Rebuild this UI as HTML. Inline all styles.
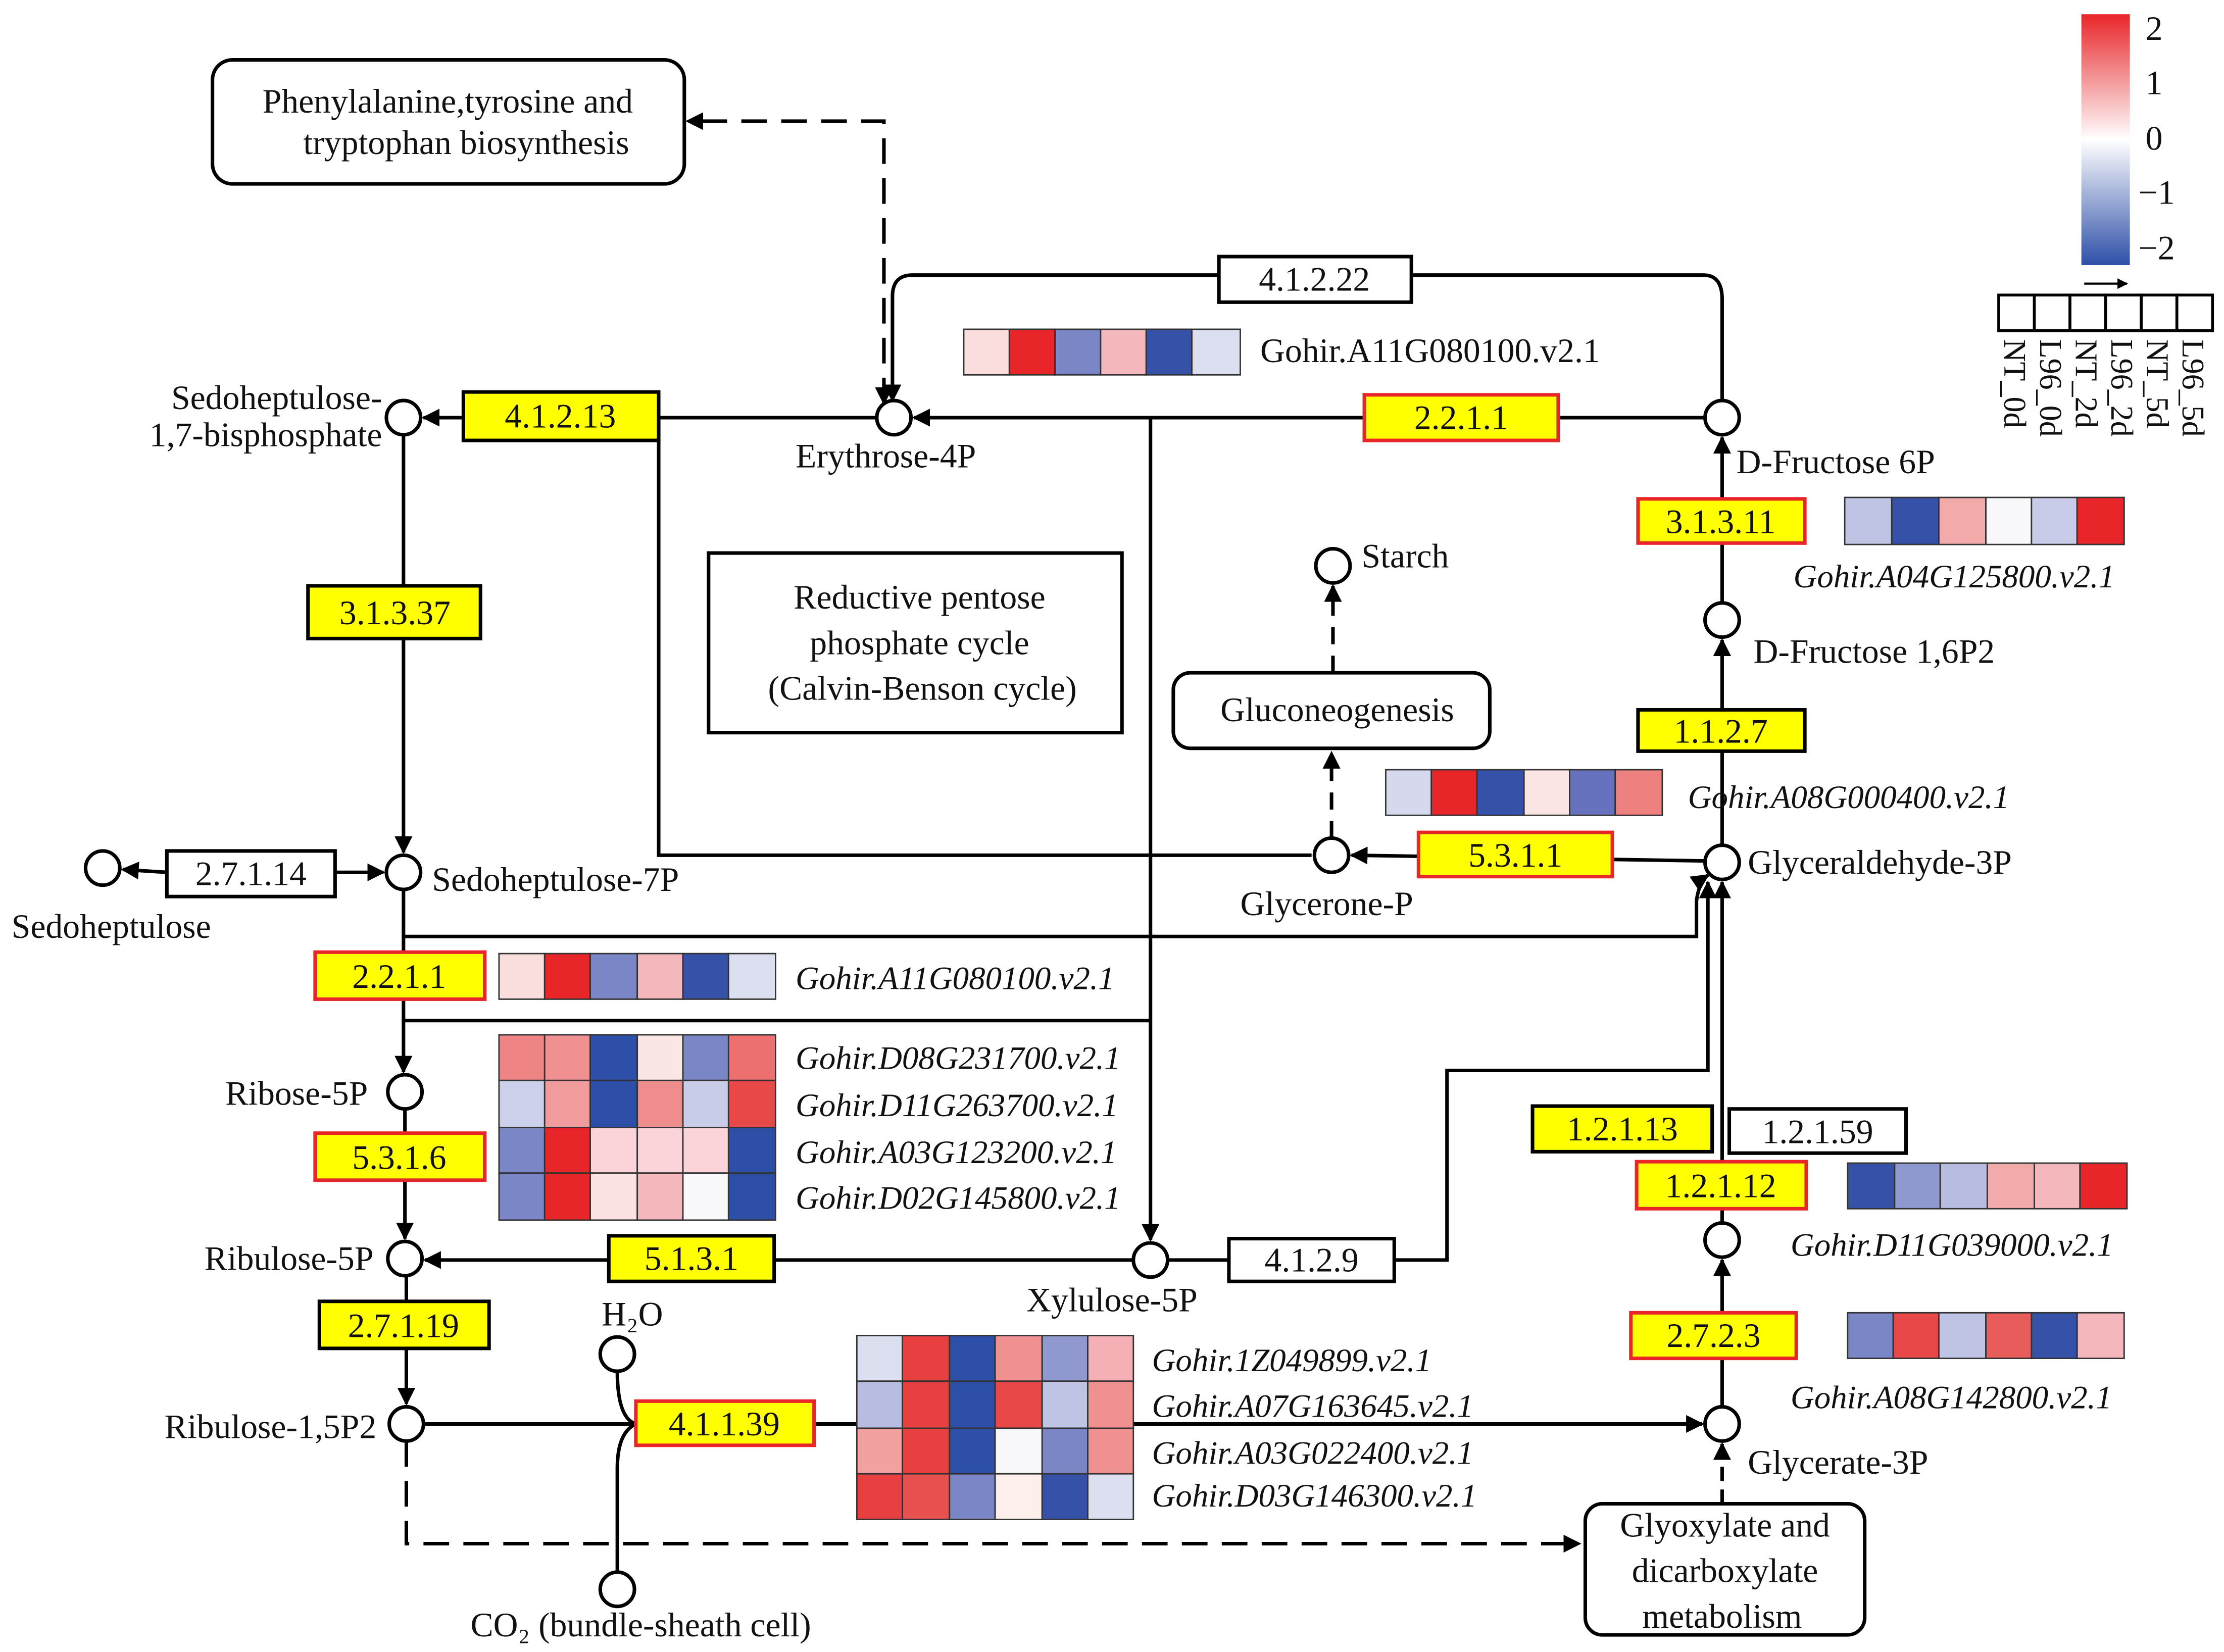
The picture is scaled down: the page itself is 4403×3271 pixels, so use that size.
<!DOCTYPE html>
<html><head><meta charset="utf-8"><style>
html,body{margin:0;padding:0;background:#fff;}
svg{display:block;}
text{font-family:"Liberation Serif",serif;fill:#111;}
</style></head><body>
<svg width="4403" height="3271" viewBox="0 0 1560 1159" xmlns="http://www.w3.org/2000/svg">
<defs>
<marker id="a" viewBox="0 0 10 10" refX="9" refY="5" markerWidth="5" markerHeight="5" orient="auto-start-reverse"><path d="M0,0 L10,5 L0,10 z" fill="#000"/></marker>
<linearGradient id="g" x1="0" y1="0" x2="0" y2="1"><stop offset="0" stop-color="#e8262a"/><stop offset="0.5" stop-color="#ffffff"/><stop offset="1" stop-color="#2e4fa8"/></linearGradient>
</defs>
<g fill="none" stroke="#000" stroke-width="2.5">
<!-- dashed phenyl -->
<path d="M620,283 L620,85 L482,85" stroke-dasharray="18,10" marker-end="url(#a)" marker-start="url(#a)"/>
<!-- 4.1.2.22 loop -->
<path d="M1208,281 L1208,210 Q1208,193 1195,193 L990,193"/>
<path d="M855,193 L640,193 Q626,193 626,208 L626,281" marker-end="url(#a)"/>
<path d="M1196,293 L641,293" marker-end="url(#a)"/>
<path d="M615,293 L297,293" marker-end="url(#a)"/>
<path d="M807,293 L807,870" marker-end="url(#a)"/>
<path d="M283,305 L283,598" marker-end="url(#a)"/>
<path d="M462,293 L462,600 L920,600"/>
<path d="M1196,604 L948,600" marker-end="url(#a)"/>
<path d="M934,588 L934,528" stroke-dasharray="12,8" marker-end="url(#a)"/>
<path d="M935,472 L935,411" stroke-dasharray="12,8" marker-end="url(#a)"/>
<path d="M117,612 L86,610" marker-end="url(#a)"/>
<path d="M235,612 L269,612" marker-end="url(#a)"/>
<path d="M283,657 L1190,657 L1190,632 Q1192,618 1198,614" marker-end="url(#a)"/>
<path d="M283,716 L807,716"/>
<path d="M283,624 L283,752" marker-end="url(#a)"/>
<path d="M284,778 L284,869" marker-end="url(#a)"/>
<path d="M795,884 L298,884" marker-end="url(#a)"/>
<path d="M819,884 L862,884"/>
<path d="M978,884 L1015,884 L1015,751 L1198,751 L1198,619" marker-end="url(#a)"/>
<path d="M285,895 L285,985" marker-end="url(#a)"/>
<path d="M297,999 L1194,999" marker-end="url(#a)"/>
<path d="M433,962 Q433,995 446,999"/>
<path d="M433,1103 L433,1030 Q433,1005 446,999"/>
<path d="M285,1011 L285,1083 L1108,1083" stroke-dasharray="18,10" marker-end="url(#a)"/>
<path d="M1208,1055 L1208,1013" stroke-dasharray="10,6" marker-end="url(#a)"/>
<path d="M1208,987 L1208,884" marker-end="url(#a)"/>
<path d="M1208,858 L1208,619" marker-end="url(#a)"/>
<path d="M1208,593 L1208,449" marker-end="url(#a)"/>
<path d="M1208,423 L1208,307" marker-end="url(#a)"/>
<path d="M1462,199 L1492,199" stroke-width="1.5" marker-end="url(#a)"/>
</g>
<!-- circles -->
<g fill="#fff" stroke="#000" stroke-width="2.5">
<circle cx="283" cy="293" r="12"/><circle cx="627" cy="293" r="12"/><circle cx="1208" cy="293" r="12"/>
<circle cx="935" cy="397" r="12"/><circle cx="1208" cy="435" r="12"/><circle cx="283" cy="612" r="12"/>
<circle cx="72" cy="609" r="12"/><circle cx="934" cy="600" r="12"/><circle cx="1208" cy="605" r="12"/>
<circle cx="284" cy="766" r="12"/><circle cx="284" cy="883" r="12"/><circle cx="807" cy="884" r="12"/>
<circle cx="433" cy="950" r="12"/><circle cx="285" cy="999" r="12"/><circle cx="1208" cy="999" r="12"/>
<circle cx="1208" cy="870" r="12"/><circle cx="433" cy="1115" r="12"/>
</g>
<!-- rounded boxes -->
<g fill="#fff" stroke="#000" stroke-width="2.5">
<rect x="149" y="42" width="331" height="87" rx="14"/>
<rect x="497" y="388" width="290" height="126"/>
<rect x="823" y="472" width="222" height="53" rx="12"/>
<rect x="1112" y="1055" width="196" height="92" rx="12"/>
</g>
<!-- EC boxes -->
<g stroke-width="2.5">
<rect x="855" y="180" width="135" height="32" fill="#fff" stroke="#000"/>
<rect x="325" y="275" width="137" height="34" fill="#ffff00" stroke="#000"/>
<rect x="957" y="277" width="136" height="32" fill="#ffff00" stroke="#e8262a"/>
<rect x="216" y="411" width="121" height="37" fill="#ffff00" stroke="#000"/>
<rect x="1149" y="350" width="117" height="31" fill="#ffff00" stroke="#e8262a"/>
<rect x="1149" y="498" width="117" height="29" fill="#ffff00" stroke="#000"/>
<rect x="995" y="584" width="136" height="31" fill="#ffff00" stroke="#e8262a"/>
<rect x="117" y="597" width="118" height="32" fill="#fff" stroke="#000"/>
<rect x="221" y="668" width="119" height="33" fill="#ffff00" stroke="#e8262a"/>
<rect x="221" y="795" width="119" height="33" fill="#ffff00" stroke="#e8262a"/>
<rect x="427" y="867" width="116" height="32" fill="#ffff00" stroke="#000"/>
<rect x="862" y="869" width="116" height="30" fill="#fff" stroke="#000"/>
<rect x="224" y="913" width="119" height="33" fill="#ffff00" stroke="#000"/>
<rect x="446" y="983" width="125" height="31" fill="#ffff00" stroke="#e8262a"/>
<rect x="1075" y="776" width="126" height="32" fill="#ffff00" stroke="#000"/>
<rect x="1213" y="778" width="124" height="31" fill="#fff" stroke="#000"/>
<rect x="1148" y="815" width="119" height="33" fill="#ffff00" stroke="#e8262a"/>
<rect x="1144" y="921" width="116" height="32" fill="#ffff00" stroke="#e8262a"/>
</g>
<g font-size="24" text-anchor="middle">
<text x="922" y="204">4.1.2.22</text><text x="393" y="300">4.1.2.13</text><text x="1025" y="301">2.2.1.1</text>
<text x="277" y="438">3.1.3.37</text><text x="1207" y="374">3.1.3.11</text><text x="1207" y="521">1.1.2.7</text>
<text x="1063" y="608">5.3.1.1</text><text x="176" y="621">2.7.1.14</text><text x="280" y="693">2.2.1.1</text>
<text x="280" y="820">5.3.1.6</text><text x="485" y="891">5.1.3.1</text><text x="920" y="892">4.1.2.9</text>
<text x="283" y="938">2.7.1.19</text><text x="508" y="1007">4.1.1.39</text><text x="1138" y="800">1.2.1.13</text>
<text x="1275" y="802">1.2.1.59</text><text x="1207" y="840">1.2.1.12</text><text x="1202" y="945">2.7.2.3</text>
<text x="314" y="79">Phenylalanine,tyrosine and</text><text x="327" y="108">tryptophan biosynthesis</text>
<text x="645" y="427">Reductive pentose</text><text x="645" y="459">phosphate cycle</text><text x="647" y="491">(Calvin-Benson cycle)</text>
<text x="938" y="506">Gluconeogenesis</text>
<text x="1210" y="1078">Glyoxylate and</text><text x="1210" y="1110">dicarboxylate</text><text x="1208" y="1142">metabolism</text>
</g>
<g font-size="24">
<text x="268" y="287" text-anchor="end">Sedoheptulose-</text><text x="268" y="313" text-anchor="end">1,7-bisphosphate</text>
<text x="558" y="328">Erythrose-4P</text><text x="1218" y="332">D-Fructose 6P</text>
<text x="955" y="398">Starch</text><text x="1230" y="465">D-Fructose 1,6P2</text>
<text x="303" y="625">Sedoheptulose-7P</text><text x="8" y="658">Sedoheptulose</text>
<text x="870" y="642">Glycerone-P</text><text x="1226" y="613">Glyceraldehyde-3P</text>
<text x="258" y="775" text-anchor="end">Ribose-5P</text><text x="262" y="891" text-anchor="end">Ribulose-5P</text>
<text x="720" y="920">Xylulose-5P</text><text x="422" y="930">H₂O</text>
<text x="264" y="1009" text-anchor="end">Ribulose-1,5P2</text><text x="1226" y="1034">Glycerate-3P</text>
<text x="330" y="1148">CO₂ (bundle-sheath cell)</text>
<text x="884" y="254">Gohir.A11G080100.v2.1</text>
</g>
<g font-size="23" font-style="italic">
<text x="1258" y="412">Gohir.A04G125800.v2.1</text>
<text x="1184" y="567">Gohir.A08G000400.v2.1</text>
<text x="558" y="694">Gohir.A11G080100.v2.1</text>
<text x="558" y="750">Gohir.D08G231700.v2.1</text>
<text x="558" y="783">Gohir.D11G263700.v2.1</text>
<text x="558" y="816">Gohir.A03G123200.v2.1</text>
<text x="558" y="848">Gohir.D02G145800.v2.1</text>
<text x="1256" y="881">Gohir.D11G039000.v2.1</text>
<text x="1256" y="988">Gohir.A08G142800.v2.1</text>
<text x="808" y="962">Gohir.1Z049899.v2.1</text>
<text x="808" y="994">Gohir.A07G163645.v2.1</text>
<text x="808" y="1027">Gohir.A03G022400.v2.1</text>
<text x="808" y="1057">Gohir.D03G146300.v2.1</text>
</g>
<!-- heatmaps -->
<g stroke="#333" stroke-width="1">
<!-- top A11 -->
<rect x="676" y="231" width="32" height="32" fill="#fadede"/><rect x="708" y="231" width="32" height="32" fill="#e8262a"/><rect x="740" y="231" width="32" height="32" fill="#7b86c6"/><rect x="772" y="231" width="32" height="32" fill="#f4b8bc"/><rect x="804" y="231" width="32" height="32" fill="#3552a8"/><rect x="836" y="231" width="34" height="32" fill="#dcdff0"/>
<!-- A04 -->
<rect x="1294" y="349" width="33" height="33" fill="#c0c4e4"/><rect x="1327" y="349" width="33" height="33" fill="#3552a8"/><rect x="1360" y="349" width="33" height="33" fill="#f2aaaa"/><rect x="1393" y="349" width="32" height="33" fill="#f8f8fb"/><rect x="1425" y="349" width="32" height="33" fill="#c9cce8"/><rect x="1457" y="349" width="33" height="33" fill="#e8262a"/>
<!-- A08G000400 -->
<rect x="972" y="540" width="32" height="32" fill="#d6d8ee"/><rect x="1004" y="540" width="32" height="32" fill="#e8262a"/><rect x="1036" y="540" width="33" height="32" fill="#3552a8"/><rect x="1069" y="540" width="32" height="32" fill="#fbe4e4"/><rect x="1101" y="540" width="32" height="32" fill="#6672bd"/><rect x="1133" y="540" width="33" height="32" fill="#ef8080"/>
<!-- A11 second -->
<rect x="350" y="669" width="32" height="32" fill="#fadede"/><rect x="382" y="669" width="32" height="32" fill="#e8262a"/><rect x="414" y="669" width="33" height="32" fill="#7b86c6"/><rect x="447" y="669" width="32" height="32" fill="#f4b8bc"/><rect x="479" y="669" width="32" height="32" fill="#3552a8"/><rect x="511" y="669" width="33" height="32" fill="#dcdff0"/>
<!-- 4-row left -->
<rect x="350" y="726" width="32" height="32" fill="#ef8484"/><rect x="382" y="726" width="32" height="32" fill="#f09090"/><rect x="414" y="726" width="33" height="32" fill="#2e4fa8"/><rect x="447" y="726" width="32" height="32" fill="#fbe6e6"/><rect x="479" y="726" width="32" height="32" fill="#7b86c6"/><rect x="511" y="726" width="33" height="32" fill="#ec7070"/>
<rect x="350" y="758" width="32" height="33" fill="#ccd0ea"/><rect x="382" y="758" width="32" height="33" fill="#f09c9c"/><rect x="414" y="758" width="33" height="33" fill="#2e4fa8"/><rect x="447" y="758" width="32" height="33" fill="#ef8c8c"/><rect x="479" y="758" width="32" height="33" fill="#c9cce8"/><rect x="511" y="758" width="33" height="33" fill="#e84848"/>
<rect x="350" y="791" width="32" height="32" fill="#7b86c6"/><rect x="382" y="791" width="32" height="32" fill="#e8262a"/><rect x="414" y="791" width="33" height="32" fill="#fad4d8"/><rect x="447" y="791" width="32" height="32" fill="#fad4d8"/><rect x="479" y="791" width="32" height="32" fill="#fad4d8"/><rect x="511" y="791" width="33" height="32" fill="#2e4fa8"/>
<rect x="350" y="823" width="32" height="33" fill="#7b86c6"/><rect x="382" y="823" width="32" height="33" fill="#e8262a"/><rect x="414" y="823" width="33" height="33" fill="#fbe2e2"/><rect x="447" y="823" width="32" height="33" fill="#f4b8bc"/><rect x="479" y="823" width="32" height="33" fill="#f8f8fb"/><rect x="511" y="823" width="33" height="33" fill="#2e4fa8"/>
<!-- D11G039000 -->
<rect x="1296" y="816" width="33" height="32" fill="#3552a8"/><rect x="1329" y="816" width="32" height="32" fill="#9098d0"/><rect x="1361" y="816" width="33" height="32" fill="#b8bce0"/><rect x="1394" y="816" width="33" height="32" fill="#f2aaaa"/><rect x="1427" y="816" width="32" height="32" fill="#f4b8bc"/><rect x="1459" y="816" width="33" height="32" fill="#e8262a"/>
<!-- A08G142800 -->
<rect x="1296" y="921" width="32" height="32" fill="#7b86c6"/><rect x="1328" y="921" width="32" height="32" fill="#e84848"/><rect x="1360" y="921" width="33" height="32" fill="#c0c4e4"/><rect x="1393" y="921" width="32" height="32" fill="#e85c5c"/><rect x="1425" y="921" width="32" height="32" fill="#3552a8"/><rect x="1457" y="921" width="33" height="32" fill="#f4b8bc"/>
<!-- 4-row bottom -->
<rect x="601" y="937" width="32" height="32" fill="#dcdff0"/><rect x="633" y="937" width="33" height="32" fill="#e84040"/><rect x="666" y="937" width="32" height="32" fill="#2e4fa8"/><rect x="698" y="937" width="33" height="32" fill="#f09090"/><rect x="731" y="937" width="32" height="32" fill="#9098d0"/><rect x="763" y="937" width="32" height="32" fill="#f4b0b4"/>
<rect x="601" y="969" width="32" height="33" fill="#b8bce0"/><rect x="633" y="969" width="33" height="33" fill="#e84040"/><rect x="666" y="969" width="32" height="33" fill="#2e4fa8"/><rect x="698" y="969" width="33" height="33" fill="#e84848"/><rect x="731" y="969" width="32" height="33" fill="#c0c4e4"/><rect x="763" y="969" width="32" height="33" fill="#f09090"/>
<rect x="601" y="1002" width="32" height="32" fill="#f2a0a0"/><rect x="633" y="1002" width="33" height="32" fill="#e84040"/><rect x="666" y="1002" width="32" height="32" fill="#2e4fa8"/><rect x="698" y="1002" width="33" height="32" fill="#f8f8fb"/><rect x="731" y="1002" width="32" height="32" fill="#7b86c6"/><rect x="763" y="1002" width="32" height="32" fill="#f09090"/>
<rect x="601" y="1034" width="32" height="32" fill="#e84040"/><rect x="633" y="1034" width="33" height="32" fill="#e85050"/><rect x="666" y="1034" width="32" height="32" fill="#7b86c6"/><rect x="698" y="1034" width="33" height="32" fill="#fdf0ec"/><rect x="731" y="1034" width="32" height="32" fill="#3552a8"/><rect x="763" y="1034" width="32" height="32" fill="#dcdff0"/>
</g>
<!-- legend -->
<rect x="1460" y="10" width="34" height="176" fill="url(#g)"/>
<g font-size="24"><text x="1505" y="28">2</text><text x="1505" y="66">1</text><text x="1505" y="105">0</text><text x="1500" y="143">−1</text><text x="1500" y="182">−2</text></g>
<g fill="#fff" stroke="#000" stroke-width="2">
<rect x="1402" y="207" width="25" height="25"/><rect x="1427" y="207" width="25" height="25"/><rect x="1452" y="207" width="25" height="25"/><rect x="1477" y="207" width="25" height="25"/><rect x="1502" y="207" width="25" height="25"/><rect x="1527" y="207" width="25" height="25"/>
</g>
<g font-size="22">
<text transform="translate(1406,238) rotate(90)">NT_0d</text>
<text transform="translate(1431,238) rotate(90)">L96_0d</text>
<text transform="translate(1456,238) rotate(90)">NT_2d</text>
<text transform="translate(1481,238) rotate(90)">L96_2d</text>
<text transform="translate(1506,238) rotate(90)">NT_5d</text>
<text transform="translate(1531,238) rotate(90)">L96_5d</text>
</g>
</svg>
</body></html>
